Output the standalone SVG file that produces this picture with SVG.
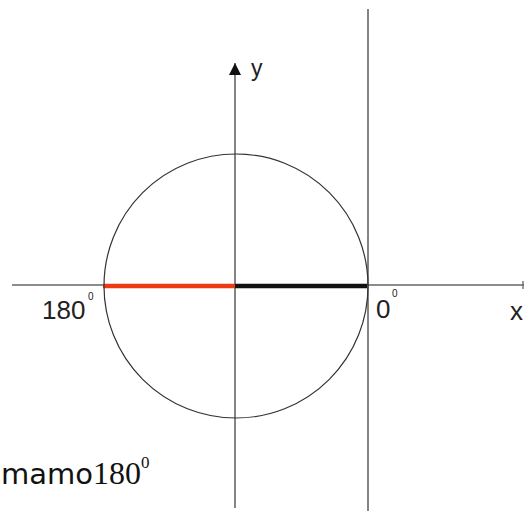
<svg xmlns="http://www.w3.org/2000/svg" width="524" height="511" viewBox="0 0 524 511">
<style>
.thin{stroke:#333;stroke-width:1.2;fill:none}
.axis{stroke:#666;stroke-width:1.3;fill:none}
.lbl{font-family:"Liberation Sans",Arial,sans-serif;fill:#222}
.sup{font-family:"Liberation Sans",Arial,sans-serif;fill:#222;font-size:10px}
</style>
<defs>
<marker id="arr" markerWidth="12" markerHeight="12" refX="12" refY="6" orient="auto" markerUnits="userSpaceOnUse" viewBox="0 0 12 12">
<path d="M0,0 L12,6 L0,12 Z" fill="#111"/>
</marker>
</defs>
<rect width="524" height="511" fill="#fff"/>
<g id="connectors">
<line id="x-axis" class="axis" x1="12" y1="285" x2="524" y2="285"/>
<line x1="523" y1="281" x2="523" y2="289" class="axis"/>
<line id="y-axis" class="thin" x1="235" y1="508" x2="235" y2="63" marker-end="url(#arr)"/>
<line id="tangent" class="thin" x1="368" y1="9" x2="368" y2="511"/>
<line id="red-seg" x1="103" y1="286" x2="235" y2="286" stroke="#ee3a12" stroke-width="4.5"/>
<line id="black-seg" x1="235" y1="286" x2="367" y2="286" stroke="#111" stroke-width="4.5"/>
</g>
<g id="circle">
<circle cx="236" cy="286" r="132" class="thin"/>
</g>
<g id="label-y"><text class="lbl" x="251" y="76" font-size="23">y</text></g>
<g id="label-x"><text class="lbl" x="510" y="320" font-size="26">x</text></g>
<g id="label-180">
<text class="lbl" x="42" y="319" font-size="26">180</text>
<text class="sup" x="88" y="300">0</text>
</g>
<g id="label-0">
<text class="lbl" x="376" y="318" font-size="26">0</text>
<text class="sup" x="392" y="297">0</text>
</g>
<g id="label-mamo">
<text x="1" y="484" font-size="29" font-family="'DejaVu Sans',sans-serif" fill="#111">mamo<tspan font-family="'Liberation Serif','Times New Roman',serif" font-size="32">180</tspan><tspan font-family="'Liberation Serif','Times New Roman',serif" font-size="17" dy="-16">0</tspan></text>
</g>
</svg>
